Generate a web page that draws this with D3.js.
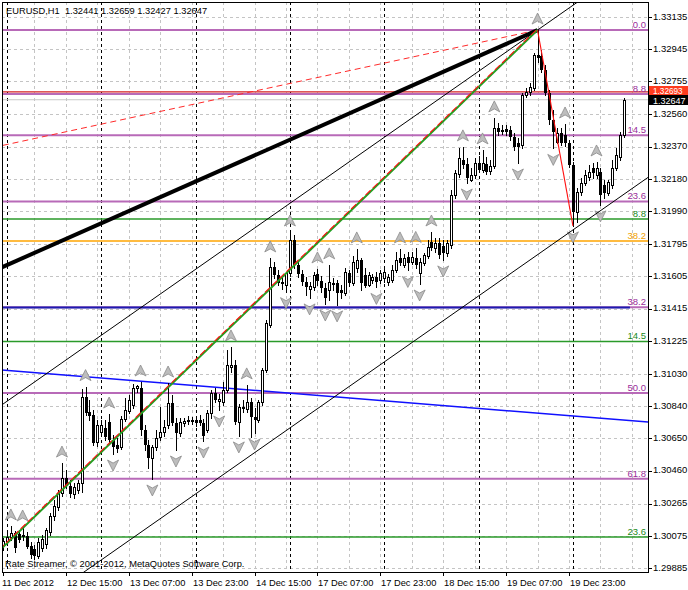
<!DOCTYPE html>
<html><head><meta charset="utf-8">
<script src="https://cdn.jsdelivr.net/npm/d3@7"></script>
<style>body{margin:0;background:#fff}svg{display:block}text{font-family:"Liberation Sans",Arial,sans-serif}</style>
</head><body><svg id="c" width="688" height="590"></svg>
<script>
// ---------- DATA ----------
const titleText = "EURUSD,H1  1.32441 1.32659 1.32427 1.32647";
const watermark = "Rate Streamer, \u00A9 2001-2012, MetaQuotes Software Corp.";
const opens = [1.30021,1.30044,1.30068,1.30091,1.30085,1.30080,1.30074,1.30015,1.29997,1.29956,
1.30003,1.30026,1.30097,1.30192,1.30245,1.30327,1.30416,1.30369,1.30321,1.30345,
1.30386,1.30894,1.30805,1.30788,1.30628,1.30687,1.30711,1.30746,1.30640,1.30611,
1.30599,1.30764,1.30811,1.30847,1.30947,1.30947,1.30699,1.30611,1.30534,1.30599,
1.30658,1.30687,1.30729,1.30858,1.30740,1.30681,1.30740,1.30752,1.30752,1.30758,
1.30758,1.30740,1.30699,1.30799,1.30917,1.30870,1.30864,1.30935,1.31071,1.31082,
1.30746,1.30835,1.30823,1.30864,1.30776,1.30758,1.30864,1.31053,1.31319,1.31661,
1.31614,1.31566,1.31555,1.31625,1.31820,1.31673,1.31619,1.31572,1.31531,1.31543,
1.31619,1.31578,1.31537,1.31525,1.31560,1.31566,1.31525,1.31507,1.31625,1.31566,
1.31655,1.31702,1.31614,1.31555,1.31584,1.31602,1.31584,1.31596,1.31572,1.31584,
1.31643,1.31714,1.31673,1.31720,1.31690,1.31714,1.31625,1.31684,1.31726,1.31808,
1.31773,1.31802,1.31785,1.31743,1.31791,1.32086,1.32209,1.32292,1.32268,1.32174,
1.32204,1.32274,1.32233,1.32268,1.32227,1.32257,1.32481,1.32463,1.32475,1.32469,
1.32428,1.32392,1.32381,1.32676,1.32693,1.32717,1.32912,1.32906,1.32823,1.32687,
1.32528,1.32398,1.32451,1.32440,1.32392,1.32263,1.31985,1.32103,1.32156,1.32192,
1.32245,1.32204,1.32221,1.32145,1.32097,1.32145,1.32245,1.32310,1.32441];
const highs = [1.30062,1.30097,1.30133,1.30103,1.30109,1.30127,1.30097,1.30038,1.30021,1.30062,
1.30080,1.30121,1.30209,1.30286,1.30345,1.30504,1.30463,1.30404,1.30386,1.30404,
1.30940,1.30955,1.30876,1.30817,1.30758,1.30758,1.30758,1.30793,1.30670,1.30652,
1.30782,1.30888,1.30906,1.30970,1.30965,1.30982,1.30729,1.30640,1.30611,1.30699,
1.30835,1.30758,1.30976,1.30906,1.30770,1.30770,1.30770,1.30782,1.30776,1.30782,
1.30788,1.30764,1.30817,1.30935,1.30947,1.30911,1.30982,1.31171,1.31189,1.31112,
1.30852,1.30876,1.30965,1.30888,1.30829,1.30876,1.31065,1.31348,1.31714,1.31690,
1.31643,1.31602,1.31631,1.31867,1.31850,1.31690,1.31643,1.31602,1.31572,1.31631,
1.31649,1.31608,1.31566,1.31673,1.31596,1.31584,1.31555,1.31655,1.31643,1.31726,
1.31767,1.31714,1.31655,1.31631,1.31619,1.31631,1.31643,1.31655,1.31619,1.31673,
1.31749,1.31767,1.31737,1.31749,1.31749,1.31770,1.31714,1.31745,1.31820,1.31867,
1.31832,1.31832,1.31820,1.31820,1.32115,1.32233,1.32363,1.32369,1.32304,1.32245,
1.32304,1.32316,1.32351,1.32310,1.32292,1.32540,1.32510,1.32499,1.32499,1.32493,
1.32451,1.32422,1.32687,1.32717,1.32746,1.32923,1.33058,1.32941,1.32853,1.32705,
1.32587,1.32481,1.32481,1.32504,1.32410,1.32280,1.32127,1.32186,1.32233,1.32263,
1.32274,1.32280,1.32245,1.32174,1.32174,1.32292,1.32363,1.32457,1.32659];
const lows = [1.29991,1.30021,1.30050,1.29979,1.30038,1.30050,1.30003,1.29944,1.29938,1.29944,
1.29985,1.30003,1.30080,1.30168,1.30227,1.30310,1.30357,1.30304,1.30298,1.30327,
1.30333,1.30788,1.30758,1.30611,1.30605,1.30664,1.30640,1.30628,1.30557,1.30569,
1.30587,1.30752,1.30799,1.30829,1.30923,1.30670,1.30581,1.30475,1.30410,1.30581,
1.30640,1.30664,1.30711,1.30729,1.30581,1.30664,1.30723,1.30734,1.30734,1.30723,
1.30729,1.30634,1.30687,1.30770,1.30864,1.30817,1.30847,1.30923,1.31041,1.30734,
1.30664,1.30805,1.30805,1.30658,1.30681,1.30746,1.30847,1.31041,1.31307,1.31596,
1.31555,1.31531,1.31515,1.31608,1.31655,1.31602,1.31555,1.31496,1.31478,1.31525,
1.31555,1.31513,1.31442,1.31466,1.31525,1.31437,1.31478,1.31496,1.31549,1.31555,
1.31631,1.31525,1.31545,1.31549,1.31566,1.31540,1.31566,1.31572,1.31555,1.31572,
1.31631,1.31673,1.31661,1.31640,1.31678,1.31655,1.31560,1.31673,1.31714,1.31761,
1.31749,1.31714,1.31702,1.31726,1.31773,1.32068,1.32192,1.32245,1.32156,1.32168,
1.32186,1.32221,1.32221,1.32209,1.32209,1.32245,1.32440,1.32445,1.32440,1.32410,
1.32351,1.32274,1.32363,1.32664,1.32676,1.32705,1.32870,1.32811,1.32676,1.32504,
1.32360,1.32392,1.32380,1.32375,1.32251,1.31903,1.31926,1.32086,1.32145,1.32174,
1.32186,1.32186,1.32027,1.32068,1.32086,1.32127,1.32233,1.32292,1.32427];
const closes = [1.30044,1.30068,1.30091,1.30003,1.30050,1.30068,1.30009,1.29962,1.29956,1.30038,
1.30056,1.30109,1.30192,1.30251,1.30327,1.30416,1.30369,1.30321,1.30363,1.30386,
1.30894,1.30799,1.30782,1.30622,1.30729,1.30729,1.30658,1.30640,1.30599,1.30587,
1.30764,1.30817,1.30876,1.30947,1.30959,1.30699,1.30611,1.30534,1.30599,1.30652,
1.30687,1.30717,1.30858,1.30740,1.30681,1.30746,1.30752,1.30758,1.30758,1.30740,
1.30740,1.30664,1.30799,1.30917,1.30876,1.30882,1.30935,1.31082,1.31082,1.30746,
1.30835,1.30823,1.30864,1.30776,1.30758,1.30864,1.31053,1.31330,1.31661,1.31614,
1.31566,1.31572,1.31625,1.31820,1.31673,1.31619,1.31572,1.31543,1.31549,1.31614,
1.31578,1.31537,1.31478,1.31572,1.31566,1.31507,1.31507,1.31631,1.31566,1.31690,
1.31702,1.31566,1.31549,1.31614,1.31602,1.31572,1.31625,1.31631,1.31602,1.31643,
1.31702,1.31684,1.31714,1.31684,1.31720,1.31673,1.31690,1.31732,1.31779,1.31773,
1.31802,1.31732,1.31743,1.31802,1.32086,1.32215,1.32304,1.32263,1.32186,1.32204,
1.32274,1.32233,1.32274,1.32221,1.32257,1.32481,1.32457,1.32469,1.32457,1.32428,
1.32369,1.32369,1.32676,1.32693,1.32723,1.32912,1.32894,1.32823,1.32687,1.32528,
1.32457,1.32451,1.32392,1.32392,1.32263,1.31985,1.32103,1.32156,1.32204,1.32221,
1.32215,1.32245,1.32086,1.32097,1.32162,1.32245,1.32322,1.32440,1.32647];

const priceTicks = ["1.33135","1.32945","1.32755","1.32560","1.32370","1.32180","1.31990","1.31795","1.31605",
"1.31415","1.31225","1.31030","1.30840","1.30650","1.30460","1.30265","1.30075","1.29885"];
const timeTickBars = [0,16,32,48,64,80,96,112,128,144];
const timeTickLabels = ["11 Dec 2012","12 Dec 15:00","13 Dec 07:00","13 Dec 23:00","14 Dec 15:00",
"17 Dec 07:00","17 Dec 23:00","18 Dec 15:00","19 Dec 07:00","19 Dec 23:00"];
const daySeparatorBars = [1,25,49,73,97,121,145];
const fractalUpBars = [2,5,15,21,27,35,42,58,62,68,73,80,83,90,101,105,109,117,122,125,136,143,151];
const fractalDownBars = [28,38,44,51,55,60,64,72,78,82,85,95,103,106,112,118,131,140,145,152];

const purpleFibRange = [1.33058, 1.28776];
const purpleFibLevels = [0, 8.8, 14.5, 23.6, 38.2, 50.0, 61.8];
const greenFibRange = [1.33058, 1.20390];
const greenFibLevels = [8.8, 14.5, 23.6];
const orangeFibRange = [1.33058, 1.29801];
const orangeFibLevels = [38.2];

const askPrice = 1.32693;
const bidPrice = 1.32647;
const blueHLine = [[-5, 1.31421], [159.5, 1.31421]];
const blueSlopedLine = [[0, 1.31053], [164, 1.30746]];
const thickTrend = [[-10, 1.31559], [136, 1.33058]];
const redDashedTrend = [[-10, 1.32328], [136, 1.33058]];
const greenTrend = [[-10, 1.29783], [136, 1.33058]];
const zigzagUp = [[-10, 1.29783], [136, 1.33058]];
const zigzagDown = [[136, 1.33058], [145, 1.31903]];
const channelUpper = [[0, 1.30852], [136, 1.33058]];
const channelLowerPoint = [145, 1.31879];

// ---------- SETUP ----------
const svg = d3.select("#c");
const L = 2, R = 648, T = 2, B = 572;
const x = d3.scaleLinear().domain([0, 144]).range([3, 569]);
const y = d3.scaleLinear().domain([1.29885, 1.33135]).range([568, 17]);
const bars = d3.range(opens.length);

svg.append("defs").append("clipPath").attr("id", "plot")
  .append("rect").attr("x", L).attr("y", T).attr("width", R - L).attr("height", B - T);
const g = svg.append("g").attr("clip-path", "url(#plot)");

// grid
const gridBars = d3.range(8, 170, 8);
g.selectAll(".vg").data(gridBars).join("line")
  .attr("x1", d => Math.round(x(d)) + 0.5).attr("x2", d => Math.round(x(d)) + 0.5)
  .attr("y1", T).attr("y2", B).attr("stroke", "#c4c4c4").attr("stroke-dasharray", "3,3");
g.selectAll(".hg").data(priceTicks).join("line")
  .attr("x1", L).attr("x2", R)
  .attr("y1", d => Math.round(y(+d)) + 0.5).attr("y2", d => Math.round(y(+d)) + 0.5)
  .attr("stroke", "#c4c4c4").attr("stroke-dasharray", "3,3");
g.selectAll(".ds").data(daySeparatorBars).join("line")
  .attr("x1", d => Math.round(x(d)) + 0.5).attr("x2", d => Math.round(x(d)) + 0.5)
  .attr("y1", T).attr("y2", B).attr("stroke", "#000").attr("stroke-dasharray", "3,3");

// fib levels
function fib(range, levels, lineColor, textColor, width) {
  levels.forEach(lv => {
    const p = range[0] - (range[0] - range[1]) * lv / 100;
    const yy = y(p);
    g.append("line").attr("x1", L).attr("x2", R).attr("y1", yy).attr("y2", yy)
      .attr("stroke", lineColor).attr("stroke-width", width);
    svg.append("text").attr("x", 646).attr("y", yy - 2).attr("text-anchor", "end")
      .attr("font-size", 9.5).attr("fill", textColor).text(lv.toFixed(1));
  });
}
fib(purpleFibRange, purpleFibLevels, "#b86ab8", "#9a2c9a", 2);
fib(greenFibRange, greenFibLevels, "#2a9a2a", "#1a8a1a", 1.5);
fib(orangeFibRange, orangeFibLevels, "#ffa500", "#f0a000", 1.5);

// horizontal lines
g.append("line").attr("x1", L).attr("x2", R).attr("y1", y(bidPrice)).attr("y2", y(bidPrice))
  .attr("stroke", "#c8c8c8").attr("stroke-width", 1);
g.append("line").attr("x1", L).attr("x2", R).attr("y1", y(askPrice)).attr("y2", y(askPrice))
  .attr("stroke", "#d42020").attr("stroke-width", 1.2);

const lineGen = d3.line().x(d => x(d[0])).y(d => y(d[1]));
function extend(pts, i0, i1) {
  const [a, b] = pts; const s = (b[1] - a[1]) / (b[0] - a[0]);
  return [[i0, a[1] + s * (i0 - a[0])], [i1, a[1] + s * (i1 - a[0])]];
}
g.append("path").attr("d", lineGen(blueHLine)).attr("stroke", "#1c1cb0").attr("stroke-width", 2).attr("fill", "none");
g.append("path").attr("d", lineGen(extend(blueSlopedLine, -5, 170))).attr("stroke", "#1010ff").attr("stroke-width", 1.5).attr("fill", "none");

// candles
const cg = g.append("g");
bars.forEach(i => {
  const cx = Math.round(x(i));
  const o = opens[i], c = closes[i];
  cg.append("line").attr("x1", cx + 0.5).attr("x2", cx + 0.5)
    .attr("y1", Math.round(y(highs[i]))).attr("y2", Math.round(y(lows[i])) + 1)
    .attr("stroke", "#000");
  const yt = Math.round(y(Math.max(o, c))), yb = Math.round(y(Math.min(o, c)));
  if (c >= o) {
    cg.append("rect").attr("x", cx - 0.5).attr("y", yt + 0.5).attr("width", 2)
      .attr("height", Math.max(yb - yt, 0)).attr("fill", "#fff").attr("stroke", "#000");
  } else {
    cg.append("rect").attr("x", cx - 1).attr("y", yt).attr("width", 3)
      .attr("height", Math.max(yb - yt, 1)).attr("fill", "#000");
  }
});

// fractals
const upArrow = "M0,-6 L5.5,5 L0,2 L-5.5,5 Z", downArrow = "M0,6 L5.5,-5 L0,-2 L-5.5,-5 Z";
g.selectAll(".fu").data(fractalUpBars).join("path")
  .attr("d", upArrow).attr("transform", i => `translate(${x(i)},${y(highs[i]) - 11})`)
  .attr("fill", "#bdbdbd").attr("stroke", "#8a8a8a").attr("stroke-width", 0.8);
g.selectAll(".fd").data(fractalDownBars).join("path")
  .attr("d", downArrow).attr("transform", i => `translate(${x(i)},${y(lows[i]) + 11})`)
  .attr("fill", "#bdbdbd").attr("stroke", "#8a8a8a").attr("stroke-width", 0.8);

// trend lines
g.append("path").attr("d", lineGen(extend(channelUpper, -10, 175))).attr("stroke", "#000").attr("stroke-width", 1).attr("fill", "none");
const cs = (channelUpper[1][1] - channelUpper[0][1]) / (channelUpper[1][0] - channelUpper[0][0]);
const lowerPts = [channelLowerPoint, [channelLowerPoint[0] + 10, channelLowerPoint[1] + cs * 10]];
g.append("path").attr("d", lineGen(extend(lowerPts, -10, 175))).attr("stroke", "#000").attr("stroke-width", 1).attr("fill", "none");
g.append("path").attr("d", lineGen(redDashedTrend)).attr("stroke", "#ff2a2a").attr("stroke-width", 1).attr("stroke-dasharray", "6,4").attr("fill", "none");
g.append("path").attr("d", lineGen(thickTrend)).attr("stroke", "#000").attr("stroke-width", 4).attr("fill", "none");
g.append("path").attr("d", lineGen(greenTrend)).attr("stroke", "#22a022").attr("stroke-width", 2).attr("fill", "none");
g.append("path").attr("d", lineGen(zigzagUp)).attr("stroke", "#ff1010").attr("stroke-width", 1.1).attr("fill", "none")
  .attr("stroke-dasharray", "7,3").attr("transform", "translate(-0.6,-0.8)");
g.append("path").attr("d", lineGen(zigzagDown)).attr("stroke", "#ff1010").attr("stroke-width", 1.1).attr("fill", "none");

// frame and axes
svg.append("rect").attr("x", L + 0.5).attr("y", T + 0.5).attr("width", R - L).attr("height", B - T)
  .attr("fill", "none").attr("stroke", "#000");
svg.selectAll(".pt").data(priceTicks).join("line")
  .attr("x1", R).attr("x2", R + 4).attr("y1", d => Math.round(y(+d)) + 0.5).attr("y2", d => Math.round(y(+d)) + 0.5)
  .attr("stroke", "#000");
svg.selectAll(".pl").data(priceTicks).join("text")
  .attr("x", 653).attr("y", d => y(+d) + 2.8).attr("font-size", 9.5).attr("fill", "#000").text(d => d);
svg.selectAll(".tt").data(timeTickBars).join("line")
  .attr("x1", d => Math.round(x(d)) + 0.5).attr("x2", d => Math.round(x(d)) + 0.5)
  .attr("y1", B).attr("y2", B + 4).attr("stroke", "#000");
svg.selectAll(".tl").data(timeTickBars).join("text")
  .attr("x", (d, k) => k === 0 ? 2 : Math.round(x(d)) + 1).attr("y", 586).attr("font-size", 9.3).attr("fill", "#000")
  .text((d, k) => timeTickLabels[k]);

// ask / bid price boxes
svg.append("rect").attr("x", 649).attr("y", 86).attr("width", 39).attr("height", 9).attr("fill", "#ff3c1e");
svg.append("text").attr("x", 653).attr("y", 94).attr("font-size", 8.2).attr("fill", "#fff").text(askPrice.toFixed(5));
svg.append("rect").attr("x", 649).attr("y", 95).attr("width", 39).attr("height", 10).attr("fill", "#000");
svg.append("text").attr("x", 653).attr("y", 104.2).attr("font-size", 9).attr("fill", "#fff").text(bidPrice.toFixed(5));

svg.append("text").attr("x", 6).attr("y", 14).attr("font-size", 9.3).attr("fill", "#000").attr("xml:space", "preserve").style("white-space", "pre").text(titleText);
svg.append("text").attr("x", 5).attr("y", 567).attr("font-size", 9.3).attr("fill", "#000").text(watermark);
</script></body></html>
